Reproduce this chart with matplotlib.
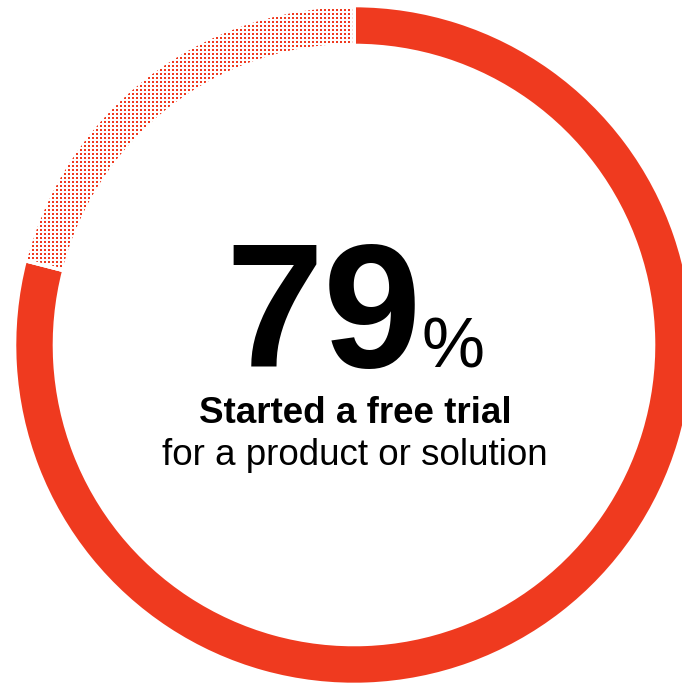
import numpy as np
import matplotlib
matplotlib.use("Agg")
import matplotlib.pyplot as plt
from matplotlib.patches import Wedge

# Share of respondents
values = [79, 21]
headline = "79"
label_bold = "Started a free trial"
label_rest = "for a product or solution"

red = "#EF3A1F"

W, H = 682, 683
fig = plt.figure(figsize=(W / 100, H / 100), dpi=100)
ax = fig.add_axes([0, 0, 1, 1])

# ring geometry (pixels, y up)
cx, cy = 354, H - 345
r_out, ring = 339.5, 40
gap_lw = 2.6

wedges, _ = ax.pie(values, startangle=90, counterclock=False, radius=r_out,
                   center=(cx, cy), frame=True,
                   colors=[red, "white"],
                   wedgeprops=dict(width=ring, edgecolor="white",
                                   linewidth=gap_lw))
ax.set_xlim(0, W)
ax.set_ylim(0, H)
ax.set_aspect("equal")
ax.axis("off")

# dotted texture for the remaining share, clipped to its wedge
rest = wedges[1]
step = 4
dot_px = 2.4
gx, gy = np.meshgrid(np.arange(0, W, step) + 1.0, np.arange(0, H, step) + 1.0)
dots = ax.scatter(gx.ravel(), gy.ravel(), s=(dot_px * 0.72) ** 2, marker="s",
                  color=red, linewidths=0, zorder=3)
dots.set_clip_path(rest)

# white separators drawn over the dots
sep = Wedge(rest.center, rest.r, rest.theta1, rest.theta2, width=rest.width,
            facecolor="none", edgecolor="white", linewidth=gap_lw, zorder=4)
ax.add_patch(sep)

font = "Liberation Sans"
ax.text(422, H - 367, headline, ha="right", va="baseline", fontsize=127,
        fontweight="bold", family=font, color="black")
ax.text(421, H - 367, "%", ha="left", va="baseline", fontsize=51,
        family=font, color="black")
ax.text(355, H - 423, label_bold, ha="center", va="baseline", fontsize=26.5,
        fontweight="bold", family=font, color="black")
ax.text(355, H - 465, label_rest, ha="center", va="baseline", fontsize=26.5,
        family=font, color="black")

fig.savefig("out.png", dpi=100)
